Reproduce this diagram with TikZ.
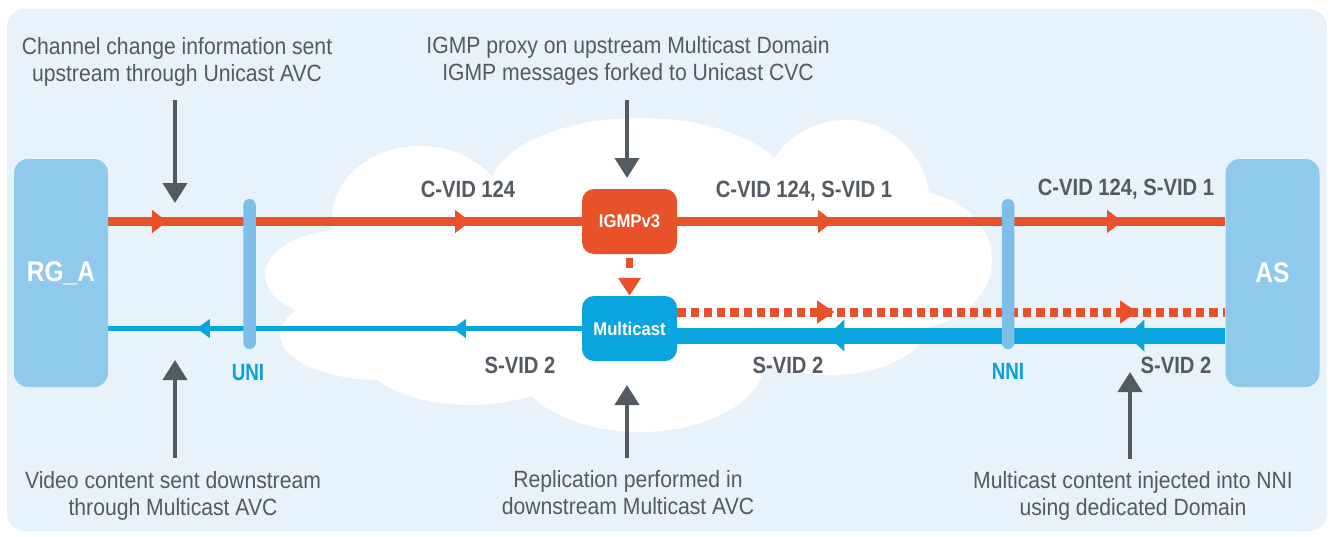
\documentclass[tikz,border=0pt]{standalone}
\usepackage{fontspec}
\setmainfont{Liberation Sans}
\newfontfamily\fReg{Liberation Sans}[FakeStretch=0.9]
\newfontfamily\fBold{Liberation Sans}[FakeStretch=0.86]
\newfontfamily\fBoldN{Liberation Sans}[FakeStretch=0.8]
\newfontfamily\fBoldB{Liberation Sans}[FakeStretch=0.9]
\usetikzlibrary{arrows.meta,decorations.markings,calc}
\definecolor{cred}{HTML}{E9512B}
\definecolor{cblue}{HTML}{0AA5DF}
\definecolor{cbox}{HTML}{8FC9EC}
\definecolor{cbar}{HTML}{7EBFEA}
\definecolor{cbg}{HTML}{E8F2FB}
\definecolor{cgray}{HTML}{535A62}
\definecolor{clabel}{HTML}{0AA0DC}
\newcommand\headR[3]{\fill[#3] (0pt,0pt) -- (-#1,0.5*#2) -- (-#1,-0.5*#2) -- cycle;}
\pgfdeclarelayer{back}
\pgfdeclarelayer{mid}
\pgfsetlayers{back,mid,main}
\tikzset{
  endbox/.style={fill=cbox, rounded corners=14pt, minimum width=94pt, minimum height=228pt, inner sep=0pt, text=white, font=\fBold\bfseries\fontsize{28.5}{30}\selectfont},
  procbox/.style={rounded corners=12pt, minimum width=95pt, minimum height=65pt, inner sep=0pt, text=white, font=\fBoldB\bfseries\fontsize{18.5}{20}\selectfont},
  ifbar/.style={fill=cbar, rounded corners=6pt, minimum width=12.5pt, minimum height=150pt, inner sep=0pt},
  note/.style={text=cgray, font=\fReg\fontsize{23.5}{27}\selectfont, align=center, inner sep=0pt},
  vid/.style={text=cgray, font=\fBold\bfseries\fontsize{23.5}{27}\selectfont, inner sep=0pt, anchor=base},
  iface/.style={text=clabel, font=\fBoldN\bfseries\fontsize{23.5}{27}\selectfont, inner sep=0pt, anchor=base},
  pointer/.style={draw=cgray, line width=4pt, -{Triangle[length=20pt,width=24pt]}},
  cloudpart/.style={fill=white}
}
\begin{document}
\begin{tikzpicture}[x=1pt,y=-1pt]
\useasboundingbox (0,0) rectangle (1332,536);
\begin{pgfonlayer}{back}
\fill[white] (0,0) rectangle (1332,536);
\fill[cbg, rounded corners=18pt] (7,9) rectangle (1327,531);
% cloud
\fill[cloudpart] (420,218) ellipse (88pt and 72pt);
\fill[cloudpart] (345,275) ellipse (80pt and 45pt);
\fill[cloudpart] (380,335) ellipse (100pt and 45pt);
\fill[cloudpart] (470,350) ellipse (110pt and 55pt);
\fill[cloudpart] (640,360) ellipse (125pt and 72pt);
\fill[cloudpart] (640,190) ellipse (150pt and 72pt);
\fill[cloudpart] (845,205) ellipse (85pt and 85pt);
\fill[cloudpart] (905,260) ellipse (87pt and 70pt);
\fill[cloudpart] (830,320) ellipse (100pt and 55pt);
\fill[cloudpart] (630,275) ellipse (320pt and 100pt);
\end{pgfonlayer}

\node[endbox] (rga) at (61,273) {RG\_A};
\node[endbox] (as) at (1272.5,273) {AS};
\node[procbox, fill=cred] (igmp) at (629.5,221.5) {IGMPv3};
\node[procbox, fill=cblue] (mc) at (629.5,328.5) {Multicast};
\node[ifbar] (uni) at (249.5,274) {};
\node[ifbar] (nni) at (1008,274) {};

\begin{pgfonlayer}{mid}
\draw[cred, line width=9.5pt, postaction={decorate}, decoration={markings,
  mark=at position 59pt with {\headR{15pt}{23pt}{cred}},
  mark=at position 362pt with {\headR{15pt}{23pt}{cred}}}]
  (rga.east |- igmp.west) -- (igmp.west);
\draw[cred, line width=9.5pt, postaction={decorate}, decoration={markings,
  mark=at position 156pt with {\headR{15pt}{23pt}{cred}},
  mark=at position 445pt with {\headR{15pt}{23pt}{cred}}}]
  (igmp.east) -- (as.west |- igmp.east);
\draw[cblue, line width=5pt, postaction={decorate}, decoration={markings,
  mark=at position 129pt with {\headR{13pt}{19pt}{cblue}},
  mark=at position 385pt with {\headR{13pt}{19pt}{cblue}}}]
  (mc.west) -- (rga.east |- mc.west);
\draw[cblue, line width=16pt, postaction={decorate}, decoration={markings,
  mark=at position 98pt with {\headR{17pt}{32pt}{cblue}},
  mark=at position 398pt with {\headR{17pt}{32pt}{cblue}}}]
  ($(as.west |- mc.east)+(0,7)$) -- ($(mc.east)+(0,7)$);
\draw[cred, line width=9pt, dash pattern=on 8.3pt off 5pt, postaction={decorate}, decoration={markings,
  mark=at position 157pt with {\headR{17pt}{23pt}{cred}},
  mark=at position 460pt with {\headR{17pt}{23pt}{cred}}}]
  ($(mc.east)+(0,-16.5)$) -- ($(as.west |- mc.east)+(0,-16.5)$);
\draw[cred, line width=7pt, dash pattern=on 10pt off 30pt, dash phase=36pt, -{Triangle[length=18pt,width=22pt]}]
  (igmp.south) -- (mc.north);
\end{pgfonlayer}

\node[note] (t1) at (177,61.8) {Channel change information sent\\upstream through Unicast AVC};
\node[note] (t2) at (628,60.5) {IGMP proxy on upstream Multicast Domain\\IGMP messages forked to Unicast CVC};
\node[note] (t3) at (173,495.5) {Video content sent downstream\\through Multicast AVC};
\node[note] (t4) at (628,493) {Replication performed in\\downstream Multicast AVC};
\node[note] (t5) at (1133,495.5) {Multicast content injected into NNI\\using dedicated Domain};

\node[vid] (v1) at (468,197) {C-VID 124};
\node[vid] (v2) at (804,197) {C-VID 124, S-VID 1};
\node[vid] (v3) at (1126,195) {C-VID 124, S-VID 1};
\node[vid] (s1) at (520,373) {S-VID 2};
\node[vid] (s2) at (788,373) {S-VID 2};
\node[vid] (s3) at (1176,373) {S-VID 2};
\node[iface] (ul) at (248,380) {UNI};
\node[iface] (nl) at (1008,379) {NNI};

\coordinate (p1s) at (175,100); \coordinate (p1e) at (175,203);
\coordinate (p2s) at (627,100); \coordinate (p2e) at (627,178);
\coordinate (p3s) at (175,458); \coordinate (p3e) at (175,360);
\coordinate (p4s) at (627,458); \coordinate (p4e) at (627,385);
\coordinate (p5s) at (1130,459); \coordinate (p5e) at (1130,372);
\draw[pointer] (p1s) -- (p1e);
\draw[pointer] (p2s) -- (p2e);
\draw[pointer] (p3s) -- (p3e);
\draw[pointer] (p4s) -- (p4e);
\draw[pointer] (p5s) -- (p5e);
\end{tikzpicture}
\end{document}
